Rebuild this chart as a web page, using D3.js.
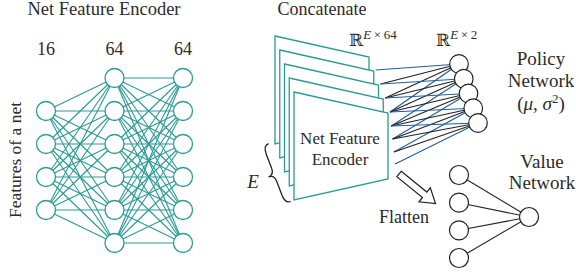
<!DOCTYPE html>
<html>
<head>
<meta charset="utf-8">
<script src="https://cdn.jsdelivr.net/npm/d3@7"></script>
<style>
  body { margin: 0; background: #fff; }
  text { font-family: "Liberation Serif", "DejaVu Serif", serif; fill: #2b2b2b; }
</style>
</head>
<body>
<svg id="fig" width="576" height="279"></svg>
<script>
// encoder layers
var layerLabels = ["16", "64", "64"];
var layerCounts = [4, 6, 6];
// stacked encoder copies (E of them shown)
var pages = [0, 1, 2, 3, 4];
// policy head outputs, one per copy
var policyNodes = [0, 1, 2, 3, 4];
// which of the 4 links to each policy node are blue
var linkColors = ["blue", "black", "black", "blue"];
// value head
var valueInputs = [0, 1, 2, 3];

var teal = "#2a9a97", blue = "#1f5f9e", ink = "#222";
var svg = d3.select("#fig");

// ---- left: net feature encoder ----
var xLayer = d3.scalePoint().domain(d3.range(layerCounts.length)).range([46, 183]);
var yNode = d3.scaleLinear().domain([0, 5]).range([78, 243]);
var nodes = layerCounts.map(function(n, li) {
  var off = (6 - n) / 2;
  return d3.range(n).map(function(k) { return {x: xLayer(li), y: yNode(k + off)}; });
});
var links = [];
for (var li = 0; li < nodes.length - 1; li++) {
  nodes[li].forEach(function(a) { nodes[li + 1].forEach(function(b) { links.push([a, b]); }); });
}
svg.append("g").selectAll("line").data(links).enter().append("line")
  .attr("x1", function(d) { return d[0].x; }).attr("y1", function(d) { return d[0].y; })
  .attr("x2", function(d) { return d[1].x; }).attr("y2", function(d) { return d[1].y; })
  .attr("stroke", teal).attr("stroke-width", 1.1);
svg.append("g").selectAll("circle").data(d3.merge(nodes)).enter().append("circle")
  .attr("cx", function(d) { return d.x; }).attr("cy", function(d) { return d.y; })
  .attr("r", 9.5).attr("fill", "#fff").attr("stroke", teal).attr("stroke-width", 1.3);

svg.append("g").selectAll("text").data(layerLabels).enter().append("text")
  .attr("x", function(d, i) { return xLayer(i); }).attr("y", 55)
  .attr("text-anchor", "middle").attr("font-size", 18).text(function(d) { return d; });
svg.append("text").attr("x", 104).attr("y", 15).attr("text-anchor", "middle")
  .attr("font-size", 18.5).text("Net Feature Encoder");
svg.append("text").attr("transform", "translate(21,160) rotate(-90)")
  .attr("text-anchor", "middle").attr("font-size", 17.5).text("Features of a net");

// ---- middle: stacked encoders ----
var pageX = d3.scaleLinear().domain([0, 4]).range([275, 294]);
var pageY = d3.scaleLinear().domain([0, 4]).range([36, 92]);
var pw = 94, hl = 108, hr = 66, slope = 21;
function pagePath(i) {
  var x = pageX(i), y = pageY(i);
  return "M" + x + "," + y + "L" + (x + pw) + "," + (y + slope) + "L" + (x + pw) + "," + (y + slope + hr) +
    "L" + x + "," + (y + hl) + "Z";
}

// policy nodes
var pnX = d3.scaleLinear().domain([0, 4]).range([459, 478]);
var pnY = d3.scaleLinear().domain([0, 4]).range([64, 123]);
// anchors on the right edges of the copies
var anchors = [];
pages.slice(1).forEach(function(i) { anchors.push({x: pageX(i) + pw + 2, y: pageY(i) + slope - 1}); });
[13, 26, 39, 51].forEach(function(dy) { anchors.push({x: pageX(4) + pw + 2 + dy / 10, y: pageY(4) + slope + dy}); });
var plinks = [];
policyNodes.forEach(function(j) {
  linkColors.forEach(function(c, k) { plinks.push({a: anchors[j + k], j: j, c: c}); });
});
svg.append("g").selectAll("line").data(plinks).enter().append("line")
  .attr("x1", function(d) { return d.a.x; }).attr("y1", function(d) { return d.a.y; })
  .attr("x2", function(d) { return pnX(d.j); }).attr("y2", function(d) { return pnY(d.j); })
  .attr("stroke", function(d) { return d.c === "blue" ? blue : ink; }).attr("stroke-width", 1.1);

svg.append("g").selectAll("path").data(pages).enter().append("path")
  .attr("d", pagePath).attr("fill", "#fff").attr("stroke", teal).attr("stroke-width", 1.3);

svg.append("g").selectAll("circle").data(policyNodes).enter().append("circle")
  .attr("cx", function(d) { return pnX(d); }).attr("cy", function(d) { return pnY(d); })
  .attr("r", 9.3).attr("fill", "#fff").attr("stroke", ink).attr("stroke-width", 1.2);

var enc = svg.append("text").attr("text-anchor", "middle").attr("font-size", 17);
enc.append("tspan").attr("x", 340).attr("y", 144).text("Net Feature");
enc.append("tspan").attr("x", 340).attr("y", 165).text("Encoder");

svg.append("text").attr("x", 322).attr("y", 15).attr("text-anchor", "middle")
  .attr("font-size", 18).text("Concatenate");

function realLabel(x, y, sup) {
  var t = svg.append("text").attr("x", x).attr("y", y).attr("font-size", 18);
  t.append("tspan").attr("font-family", "DejaVu Serif").attr("font-size", 17).text("ℝ");
  var s = t.append("tspan").attr("dy", -7).attr("font-size", 13);
  s.append("tspan").attr("font-style", "italic").text("E");
  s.append("tspan").text("\u2009×\u2009" + sup);
}
realLabel(349, 46, "64");
realLabel(436, 46, "2");

var pol = svg.append("text").attr("text-anchor", "middle").attr("font-size", 19);
pol.append("tspan").attr("x", 541).attr("y", 65).text("Policy");
pol.append("tspan").attr("x", 541).attr("y", 87).text("Network");
var mu = pol.append("tspan").attr("x", 541).attr("y", 110);
mu.append("tspan").text("(");
mu.append("tspan").attr("font-style", "italic").text("μ");
mu.append("tspan").text(", ");
mu.append("tspan").attr("font-style", "italic").text("σ");
mu.append("tspan").attr("dy", -7).attr("font-size", 13).text("2");
mu.append("tspan").attr("dy", 7).text(")");

// brace and E
svg.append("path")
  .attr("d", "M4,-31 C0,-31 -2,-28 -2,-22 L-2,-7 C-2,-2 -4,0 -8,0 C-4,0 -2,2 -2,7 L-2,22 C-2,28 0,31 4,31")
  .attr("transform", "translate(276,174) rotate(-21)")
  .attr("fill", "none").attr("stroke", ink).attr("stroke-width", 1.3);
svg.append("text").attr("x", 253).attr("y", 188).attr("text-anchor", "middle")
  .attr("font-size", 19).attr("font-style", "italic").text("E");

// flatten arrow
var arrow = [[0, -3.5], [33, -3.5], [33, -9], [47, 0], [33, 9], [33, 3.5], [0, 3.5]];
svg.append("path").attr("d", d3.line()(arrow) + "Z")
  .attr("transform", "translate(399,174) rotate(39)")
  .attr("fill", "#fff").attr("stroke", ink).attr("stroke-width", 1.2);
svg.append("text").attr("x", 404).attr("y", 223).attr("text-anchor", "middle")
  .attr("font-size", 18).text("Flatten");

// ---- value network ----
var vY = d3.scaleLinear().domain([0, 3]).range([175, 258]);
var vOut = {x: 529, y: 217};
svg.append("g").selectAll("line").data(valueInputs).enter().append("line")
  .attr("x1", 459).attr("y1", function(d) { return vY(d); })
  .attr("x2", vOut.x).attr("y2", vOut.y).attr("stroke", ink).attr("stroke-width", 1.1);
svg.append("g").selectAll("circle").data(valueInputs).enter().append("circle")
  .attr("cx", 459).attr("cy", function(d) { return vY(d); })
  .attr("r", 9.5).attr("fill", "#fff").attr("stroke", ink).attr("stroke-width", 1.2);
svg.append("circle").attr("cx", vOut.x).attr("cy", vOut.y).attr("r", 9.5)
  .attr("fill", "#fff").attr("stroke", ink).attr("stroke-width", 1.2);
var val = svg.append("text").attr("text-anchor", "middle").attr("font-size", 19);
val.append("tspan").attr("x", 542).attr("y", 168).text("Value");
val.append("tspan").attr("x", 542).attr("y", 189).text("Network");
</script>
</body>
</html>
